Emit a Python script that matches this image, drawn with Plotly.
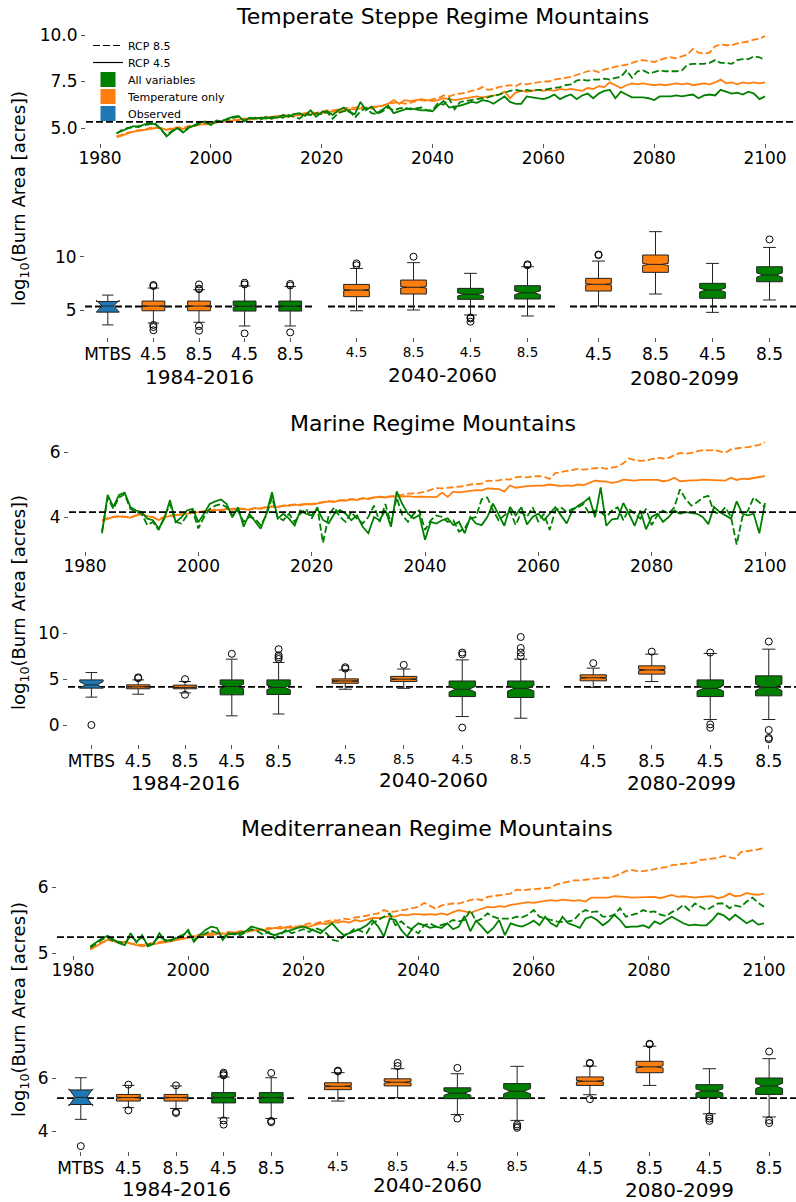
import plotly.graph_objects as go

W, H = 796, 1202
years = list(range(1983, 2101))

# ---------------- time series (log10 burn area) ----------------
# Temperate Steppe
steppe_temp45 = [
    4.50, 4.60, 4.70, 4.80, 4.85, 4.90, 4.95, 5.00, 5.00, 4.90,
    4.95, 5.00, 4.95, 5.05, 5.10, 5.20, 5.20, 5.20, 5.30, 5.35,
    5.35, 5.40, 5.45, 5.50, 5.45, 5.50, 5.55, 5.55, 5.50, 5.60,
    5.65, 5.60, 5.65, 5.70, 5.70, 5.75, 5.75, 5.80, 5.85, 5.90,
    5.85, 5.95, 6.00, 6.00, 6.05, 6.10, 6.05, 6.15, 6.20, 6.30,
    6.50, 6.30, 6.50, 6.45, 6.50, 6.55, 6.50, 6.45, 6.50, 6.60,
    6.55, 6.50, 6.55, 6.60, 6.65, 6.70, 6.65, 6.70, 6.75, 6.80,
    6.95, 6.60, 6.90, 7.00, 6.95, 7.00, 7.05, 7.00, 7.05, 7.00,
    7.10, 7.05, 7.10, 7.05, 7.00, 7.15, 7.10, 7.25, 7.20, 7.45,
    7.30, 7.15, 7.30, 7.40, 7.35, 7.40, 7.35, 7.30, 7.35, 7.30,
    7.35, 7.40, 7.35, 7.40, 7.30, 7.35, 7.40, 7.35, 7.45, 7.60,
    7.40, 7.45, 7.35, 7.45, 7.40, 7.45, 7.40, 7.45]
steppe_temp85 = [
    4.55, 4.65, 4.75, 4.80, 4.90, 4.90, 5.00, 5.05, 4.95, 4.90,
    5.00, 5.05, 5.00, 5.10, 5.15, 5.20, 5.25, 5.25, 5.30, 5.35,
    5.40, 5.45, 5.40, 5.50, 5.50, 5.55, 5.50, 5.60, 5.60, 5.65,
    5.70, 5.65, 5.75, 5.75, 5.80, 5.85, 5.80, 5.90, 5.95, 5.95,
    6.00, 6.05, 6.10, 6.10, 6.15, 6.05, 6.15, 6.15, 6.20, 6.30,
    6.35, 6.40, 6.30, 6.35, 6.45, 6.50, 6.45, 6.55, 6.60, 6.75,
    6.70, 6.80, 6.85, 6.90, 7.00, 7.05, 7.20, 7.05, 7.10, 7.20,
    7.25, 7.30, 7.25, 7.40, 7.35, 7.40, 7.45, 7.50, 7.50, 7.60,
    7.65, 7.70, 7.75, 7.85, 7.95, 8.05, 8.10, 8.00, 8.15, 8.20,
    8.30, 8.35, 8.40, 8.50, 8.60, 8.65, 8.60, 8.55, 8.65, 8.75,
    8.80, 8.75, 8.85, 8.95, 9.25, 9.05, 9.00, 9.05, 9.40, 9.50,
    9.45, 9.45, 9.55, 9.60, 9.65, 9.75, 9.80, 9.95]
steppe_all45 = [
    4.72, 4.85, 4.95, 5.10, 5.05, 5.20, 5.25, 5.20, 4.95, 4.55,
    4.80, 5.00, 4.75, 5.00, 5.15, 5.30, 5.35, 5.15, 5.40, 5.35,
    5.50, 5.60, 5.65, 5.35, 5.55, 5.50, 5.55, 5.50, 5.60, 5.55,
    5.70, 5.60, 5.75, 5.80, 5.65, 5.95, 5.60, 5.85, 5.90, 5.70,
    5.95, 6.10, 5.85, 5.75, 6.40, 5.95, 6.15, 5.80, 6.00, 6.20,
    5.80, 5.90, 6.00, 6.05, 6.00, 5.95, 5.95, 5.90, 6.20, 6.45,
    6.10, 6.15, 6.20, 6.30, 6.40, 6.35, 6.50, 6.45, 6.30, 6.50,
    6.70, 6.40, 6.30, 6.30, 6.70, 6.65, 6.60, 6.55, 6.65, 6.80,
    6.55, 6.70, 6.80, 6.55, 6.75, 6.85, 6.60, 6.85, 7.00, 7.05,
    6.60, 6.95, 6.80, 6.65, 6.65, 6.65, 6.60, 6.50, 6.70, 6.70,
    6.70, 6.75, 6.70, 6.75, 6.80, 6.60, 6.75, 6.80, 6.75, 7.05,
    6.95, 6.85, 6.90, 6.80, 6.95, 6.85, 6.55, 6.70]
steppe_all85 = [
    4.70, 4.90, 5.00, 5.05, 5.10, 5.15, 5.20, 5.25, 4.90, 4.60,
    4.85, 5.00, 4.80, 5.05, 5.10, 5.25, 5.30, 5.20, 5.35, 5.40,
    5.45, 5.55, 5.60, 5.40, 5.50, 5.55, 5.45, 5.60, 5.50, 5.65,
    5.55, 5.70, 5.60, 5.50, 5.75, 5.70, 5.80, 5.75, 5.85, 5.50,
    5.80, 5.90, 5.95, 5.55, 5.90, 6.10, 5.80, 5.75, 5.90, 6.10,
    5.95, 6.05, 6.10, 6.00, 6.05, 6.10, 5.95, 5.95, 6.35, 6.25,
    6.60, 6.00, 6.40, 6.45, 6.50, 6.55, 6.60, 6.65, 6.75, 6.80,
    6.90, 7.00, 7.05, 7.00, 7.05, 7.00, 7.05, 7.05, 7.10, 7.15,
    7.20, 7.30, 7.35, 7.55, 7.60, 7.55, 7.60, 7.60, 7.65, 7.60,
    7.70, 7.75, 8.10, 7.70, 8.05, 8.10, 7.95, 8.00, 8.10, 8.05,
    8.05, 8.05, 8.10, 8.40, 8.45, 8.45, 8.45, 8.50, 8.65, 8.50,
    8.50, 8.45, 8.65, 8.70, 8.70, 8.85, 8.80, 8.65]

# Marine
marine_temp45 = [
    3.88, 3.95, 4.00, 4.02, 4.00, 3.98, 4.05, 4.08, 4.02, 4.00,
    3.90, 4.00, 4.03, 4.05, 4.08, 4.10, 4.12, 4.15, 4.18, 4.20,
    4.22, 4.20, 4.25, 4.22, 4.26, 4.24, 4.22, 4.27, 4.25, 4.30,
    4.32, 4.30, 4.36, 4.34, 4.38, 4.36, 4.40, 4.38, 4.42, 4.45,
    4.48, 4.46, 4.52, 4.50, 4.55, 4.52, 4.57, 4.55, 4.60, 4.62,
    4.60, 4.63, 4.62, 4.63, 4.64, 4.62, 4.63, 4.62, 4.60, 4.61,
    4.75, 4.62, 4.78, 4.76, 4.78, 4.80, 4.83, 4.82, 4.88, 4.87,
    4.86, 4.78, 4.97, 4.90, 4.93, 4.95, 4.96, 4.96, 4.97, 5.00,
    4.98, 4.95, 4.97, 4.96, 5.00, 4.98, 5.05, 5.12, 5.10, 5.09,
    5.05, 5.08, 5.15, 5.14, 5.12, 5.14, 5.13, 5.14, 5.14, 5.10,
    5.13, 5.21, 5.10, 5.12, 5.13, 5.13, 5.15, 5.14, 5.13, 5.11,
    5.12, 5.21, 5.14, 5.18, 5.17, 5.20, 5.22, 5.26]
marine_temp85 = [
    3.90, 3.97, 4.00, 4.03, 4.01, 3.99, 4.04, 4.07, 4.03, 4.00,
    3.92, 4.01, 4.04, 4.06, 4.09, 4.11, 4.13, 4.16, 4.17, 4.21,
    4.23, 4.22, 4.24, 4.25, 4.27, 4.25, 4.24, 4.28, 4.27, 4.31,
    4.33, 4.32, 4.35, 4.36, 4.39, 4.38, 4.41, 4.40, 4.43, 4.46,
    4.49, 4.48, 4.51, 4.53, 4.55, 4.54, 4.58, 4.57, 4.61, 4.63,
    4.62, 4.65, 4.66, 4.68, 4.72, 4.73, 4.74, 4.78, 4.83, 4.89,
    4.88, 4.90, 4.92, 4.94, 4.95, 5.00, 5.02, 5.03, 5.12, 5.11,
    5.13, 5.16, 5.15, 5.22, 5.24, 5.22, 5.25, 5.26, 5.24, 5.17,
    5.35, 5.38, 5.42, 5.45, 5.48, 5.46, 5.47, 5.50, 5.52, 5.48,
    5.52, 5.55, 5.65, 5.80, 5.75, 5.73, 5.74, 5.78, 5.82, 5.80,
    5.82, 5.90, 5.97, 5.95, 5.97, 6.02, 6.06, 6.05, 6.06, 6.02,
    5.98, 6.08, 6.12, 6.14, 6.15, 6.18, 6.22, 6.30]
marine_all45 = [
    3.50, 4.68, 4.31, 4.68, 4.75, 4.31, 4.20, 4.15, 3.95, 3.90,
    3.64, 3.95, 4.52, 3.84, 3.99, 4.20, 4.25, 3.84, 4.10, 4.40,
    4.48, 4.54, 4.40, 3.99, 4.30, 3.70, 4.10, 3.85, 3.64, 4.10,
    4.76, 3.95, 4.10, 3.95, 3.74, 4.20, 4.10, 4.05, 4.25, 3.91,
    3.81, 4.10, 4.21, 4.10, 3.90, 4.05, 3.70, 3.50, 4.00, 3.90,
    4.21, 3.70, 4.79, 4.40, 4.10, 3.96, 4.06, 3.30, 3.85, 3.80,
    3.90, 3.96, 3.75, 3.85, 3.50, 4.00, 3.80, 3.75, 4.00, 4.41,
    4.05, 3.73, 4.31, 4.05, 4.30, 3.77, 4.00, 4.10, 3.90, 4.10,
    4.30, 4.05, 3.80, 4.20, 4.35, 4.45, 4.60, 3.99, 4.91, 3.73,
    3.93, 3.95, 4.43, 4.10, 3.73, 4.20, 3.62, 4.00, 4.10, 3.85,
    4.00, 4.20, 4.10, 4.15, 4.12, 4.10, 4.00, 3.78, 4.31, 4.15,
    4.05, 3.95, 4.48, 4.10, 4.05, 4.10, 3.50, 4.43]
marine_all85 = [
    3.55, 4.60, 4.25, 4.60, 4.70, 4.25, 4.15, 4.10, 3.75, 3.85,
    3.60, 4.00, 4.40, 3.85, 3.80, 4.05, 4.20, 3.65, 4.00, 4.25,
    4.35, 4.40, 4.30, 4.05, 4.20, 3.85, 4.00, 3.95, 3.75, 4.05,
    4.60, 4.00, 3.90, 4.10, 3.85, 4.10, 4.25, 3.95, 4.30, 3.20,
    4.05, 4.30, 4.00, 3.85, 4.15, 3.95, 3.80, 4.00, 4.35, 3.85,
    4.40, 3.80, 4.60, 4.05, 3.85, 4.10, 4.20, 3.60, 3.90, 4.05,
    4.00, 3.85, 3.90, 3.55, 3.65, 3.95, 4.00, 4.55, 4.60, 4.20,
    3.90, 4.05, 4.20, 3.75, 4.15, 4.00, 4.30, 3.85, 4.10, 3.60,
    4.20, 4.30, 4.15, 4.25, 4.30, 4.40, 4.10, 4.20, 4.15, 4.00,
    4.20, 4.30, 3.90, 4.25, 4.10, 3.95, 4.25, 3.75, 4.05, 4.20,
    4.10, 4.30, 4.85, 4.55, 4.35, 4.45, 4.60, 4.65, 4.15, 4.10,
    4.30, 4.00, 3.15, 4.00, 4.20, 4.60, 4.45, 4.30]

# Mediterranean
med_temp45 = [
    5.05, 5.10, 5.15, 5.20, 5.18, 5.15, 5.17, 5.14, 5.12, 5.10,
    5.12, 5.14, 5.15, 5.16, 5.18, 5.20, 5.22, 5.24, 5.25, 5.26,
    5.28, 5.27, 5.29, 5.30, 5.28, 5.31, 5.30, 5.32, 5.33, 5.35,
    5.34, 5.36, 5.38, 5.37, 5.39, 5.38, 5.40, 5.41, 5.40, 5.43,
    5.45, 5.44, 5.47, 5.46, 5.48, 5.46, 5.50, 5.48, 5.51, 5.53,
    5.53, 5.55, 5.56, 5.55, 5.58, 5.57, 5.59, 5.59, 5.58, 5.59,
    5.58, 5.60, 5.58, 5.62, 5.65, 5.63, 5.61, 5.64, 5.67, 5.70,
    5.69, 5.71, 5.70, 5.73, 5.74, 5.76, 5.77, 5.76, 5.78, 5.79,
    5.80, 5.79, 5.81, 5.80, 5.79, 5.80, 5.78, 5.84, 5.84, 5.83,
    5.84, 5.86, 5.86, 5.85, 5.84, 5.84, 5.84, 5.84, 5.85, 5.83,
    5.86, 5.88, 5.85, 5.86, 5.85, 5.84, 5.85, 5.85, 5.86, 5.83,
    5.85, 5.90, 5.86, 5.87, 5.91, 5.89, 5.88, 5.90]
med_temp85 = [
    5.07, 5.12, 5.16, 5.19, 5.20, 5.17, 5.16, 5.15, 5.13, 5.12,
    5.14, 5.15, 5.17, 5.18, 5.20, 5.22, 5.24, 5.25, 5.26, 5.28,
    5.27, 5.30, 5.31, 5.29, 5.32, 5.31, 5.33, 5.34, 5.35, 5.34,
    5.36, 5.38, 5.37, 5.40, 5.39, 5.41, 5.40, 5.43, 5.45, 5.44,
    5.47, 5.48, 5.50, 5.49, 5.52, 5.51, 5.54, 5.55, 5.57, 5.58,
    5.60, 5.65, 5.62, 5.63, 5.64, 5.66, 5.68, 5.70, 5.76, 5.72,
    5.67, 5.72, 5.74, 5.75, 5.75, 5.78, 5.80, 5.82, 5.80, 5.85,
    5.86, 5.87, 5.88, 5.90, 5.96, 5.95, 5.96, 5.97, 5.98, 5.98,
    5.99, 6.04, 6.06, 6.09, 6.10, 6.10, 6.11, 6.13, 6.13, 6.14,
    6.14, 6.16, 6.20, 6.24, 6.26, 6.24, 6.24, 6.25, 6.27, 6.29,
    6.30, 6.33, 6.34, 6.35, 6.36, 6.37, 6.41, 6.42, 6.43, 6.44,
    6.47, 6.45, 6.43, 6.53, 6.54, 6.55, 6.57, 6.59]
med_all45 = [
    5.10, 5.16, 5.22, 5.26, 5.20, 5.15, 5.12, 5.30, 5.16, 5.27,
    5.10, 5.14, 5.30, 5.18, 5.20, 5.22, 5.25, 5.35, 5.17, 5.27,
    5.35, 5.40, 5.38, 5.20, 5.30, 5.28, 5.30, 5.33, 5.40, 5.37,
    5.35, 5.30, 5.27, 5.30, 5.32, 5.35, 5.38, 5.40, 5.37, 5.34,
    5.30, 5.38, 5.45, 5.35, 5.27, 5.30, 5.33, 5.37, 5.42, 5.50,
    5.40, 5.25, 5.52, 5.50, 5.35, 5.25, 5.38, 5.45, 5.42, 5.38,
    5.40, 5.38, 5.45, 5.36, 5.40, 5.56, 5.33, 5.49, 5.40, 5.30,
    5.38, 5.50, 5.27, 5.45, 5.42, 5.40, 5.44, 5.49, 5.42, 5.55,
    5.45, 5.40, 5.55, 5.45, 5.42, 5.38, 5.52, 5.55, 5.50, 5.42,
    5.48, 5.58, 5.50, 5.39, 5.40, 5.40, 5.42, 5.38, 5.48, 5.44,
    5.50, 5.55, 5.50, 5.45, 5.42, 5.43, 5.42, 5.42, 5.50, 5.60,
    5.57, 5.50, 5.58, 5.52, 5.45, 5.50, 5.43, 5.45]
med_all85 = [
    5.08, 5.14, 5.20, 5.24, 5.18, 5.17, 5.14, 5.26, 5.18, 5.24,
    5.12, 5.16, 5.25, 5.20, 5.18, 5.24, 5.27, 5.32, 5.20, 5.25,
    5.30, 5.34, 5.30, 5.24, 5.28, 5.30, 5.27, 5.31, 5.36, 5.33,
    5.28, 5.32, 5.22, 5.28, 5.35, 5.30, 5.33, 5.36, 5.32, 5.38,
    5.35, 5.30, 5.20, 5.18, 5.25, 5.30, 5.38, 5.33, 5.30, 5.45,
    5.50, 5.55, 5.60, 5.42, 5.48, 5.40, 5.35, 5.30, 5.42, 5.45,
    5.40, 5.42, 5.45, 5.50, 5.48, 5.50, 5.65, 5.48, 5.52, 5.60,
    5.55, 5.52, 5.52, 5.52, 5.55, 5.54, 5.58, 5.65, 5.55, 5.52,
    5.50, 5.48, 5.47, 5.48, 5.50, 5.60, 5.65, 5.62, 5.63, 5.55,
    5.55, 5.58, 5.68, 5.55, 5.58, 5.60, 5.65, 5.62, 5.63, 5.58,
    5.56, 5.62, 5.66, 5.73, 5.65, 5.75, 5.70, 5.65, 5.70, 5.75,
    5.75, 5.68, 5.72, 5.70, 5.78, 5.84, 5.76, 5.70]

# observed (MTBS) reference levels
steppe_ref = 5.33
marine_ref = 4.15
med_ref = 5.24

# ---------------- box statistics ----------------
group_names = ["1984-2016", "2040-2060", "2080-2099"]
group_ticklabels = [["MTBS", "4.5", "8.5", "4.5", "8.5"],
                    ["4.5", "8.5", "4.5", "8.5"],
                    ["4.5", "8.5", "4.5", "8.5"]]
box_kinds = ["obs", "temp", "temp", "all", "all",
             "temp", "temp", "all", "all",
             "temp", "temp", "all", "all"]

steppe_q1 = [4.80, 4.93, 4.93, 4.90, 4.90, 6.25, 6.50, 6.00, 6.03, 6.78, 8.53, 6.10, 7.65]
steppe_med = [5.37, 5.37, 5.37, 5.35, 5.35, 6.87, 7.13, 6.47, 6.62, 7.41, 9.28, 6.87, 8.28]
steppe_q3 = [5.80, 5.84, 5.84, 5.84, 5.84, 7.40, 7.81, 7.03, 7.28, 7.97, 10.16, 7.50, 9.06]
steppe_lo = [3.60, 3.78, 3.85, 3.50, 3.50, 4.93, 5.00, 4.53, 4.44, 5.37, 6.50, 4.78, 5.94]
steppe_hi = [6.40, 7.06, 6.90, 7.25, 7.20, 8.90, 9.44, 8.44, 9.06, 9.59, 12.35, 9.37, 10.87]
steppe_notch = [0.55, 0.05, 0.05, 0.08, 0.08, 0.06, 0.07, 0.15, 0.18, 0.06, 0.10, 0.18, 0.20]
steppe_out = [[], [7.35, 7.25, 3.6, 3.4, 3.1], [7.4, 7.0, 6.95, 3.5, 3.06],
              [7.56, 7.4, 2.8], [7.45, 7.3, 2.9],
              [9.37, 9.2], [10.0], [4.3, 4.2, 3.9], [9.28, 9.2],
              [10.15, 10.2], [], [], [11.62]]

marine_q1 = [4.02, 3.95, 3.95, 3.29, 3.33, 4.55, 4.75, 3.10, 3.00, 4.82, 5.55, 3.10, 3.18]
marine_med = [4.38, 4.16, 4.10, 4.20, 4.10, 4.80, 5.00, 3.90, 4.00, 5.15, 6.00, 4.00, 4.10]
marine_q3 = [4.92, 4.38, 4.35, 4.92, 4.92, 5.03, 5.30, 4.80, 4.80, 5.47, 6.45, 4.92, 5.36]
marine_lo = [3.04, 3.36, 3.50, 1.00, 1.20, 3.90, 4.00, 0.92, 0.74, 4.10, 4.74, 0.60, 0.60]
marine_hi = [5.72, 4.92, 4.74, 7.18, 6.82, 6.00, 6.10, 7.10, 7.18, 6.20, 7.73, 7.80, 8.27]
marine_notch = [0.35, 0.04, 0.04, 0.25, 0.25, 0.05, 0.06, 0.30, 0.30, 0.06, 0.08, 0.30, 0.35]
marine_out = [[0.0], [5.2, 5.1], [5.0, 3.3], [7.76], [8.27, 7.6, 7.4, 7.2],
              [6.3, 6.15], [6.56], [7.9, 7.7, -0.28], [9.6, 8.4, 7.9, 7.5],
              [6.74], [8.0], [7.9, 0.07, -0.3], [9.1, -0.55, -1.4, -1.55]]

med_q1 = [5.00, 5.13, 5.13, 5.06, 5.06, 5.56, 5.70, 5.22, 5.22, 5.72, 6.20, 5.26, 5.38]
med_med = [5.27, 5.26, 5.26, 5.26, 5.26, 5.69, 5.84, 5.43, 5.50, 5.88, 6.42, 5.51, 5.70]
med_q3 = [5.55, 5.38, 5.38, 5.45, 5.45, 5.82, 5.97, 5.63, 5.79, 6.04, 6.63, 5.75, 6.00]
med_lo = [4.44, 4.88, 4.85, 4.49, 4.47, 5.13, 5.26, 4.62, 4.40, 5.37, 5.72, 4.65, 4.53]
med_hi = [6.01, 5.72, 5.70, 6.04, 6.01, 6.20, 6.35, 6.16, 6.44, 6.45, 7.20, 6.35, 6.73]
med_notch = [0.32, 0.02, 0.02, 0.03, 0.03, 0.02, 0.03, 0.08, 0.10, 0.03, 0.04, 0.08, 0.10]
med_out = [[3.43], [5.75, 4.78], [5.72, 4.72, 4.68], [6.2, 6.15, 6.1, 4.4, 4.24],
           [6.19, 4.38, 4.33], [6.25, 6.28], [6.57, 6.45], [6.38, 4.47],
           [4.25, 4.18, 4.12], [6.57, 6.55, 5.2], [7.29, 7.27], [4.55, 4.47, 4.38],
           [7.0, 4.4, 4.3]]

for s in [steppe_temp45, steppe_temp85, steppe_all45, steppe_all85,
          marine_temp45, marine_temp85, marine_all45, marine_all85,
          med_temp45, med_temp85, med_all45, med_all85]:
    assert len(s) == len(years), len(s)

# ---------------- styling / geometry (page pixels) ----------------
COL = {"temp": "#ff7f0e", "all": "green", "obs": "#1f77b4"}
LW = 1.8
DASH = "7px,3px"
FONT = "DejaVu Sans"
RIGHT = W


def fx(p):
    return min(max(p / W, 0.0), 1.0)


def fy(p):
    return min(max(1 - p / H, 0.0), 1.0)


def lin_range(pa, va, pb, vb, p_lo, p_hi):
    s = (vb - va) / (pb - pa)
    return [va + (p_lo - pa) * s, va + (p_hi - pa) * s]


panels = [
    dict(title="Temperate Steppe Regime Mountains", title_xy=(442, 17),
         series=(steppe_temp85, steppe_temp45, steppe_all85, steppe_all45), ref=steppe_ref,
         stats=(steppe_q1, steppe_med, steppe_q3, steppe_lo, steppe_hi, steppe_notch, steppe_out),
         line_x=(86, 100, 765), line_y=(31, 143), line_yanch=((35, 10), (128, 5)),
         line_ticks=([5, 7.5, 10], ["5.0", "7.5", "10.0"]),
         box_y=(226, 337), box_yanch=((256.7, 10), (310, 5)), box_ticks=[5, 10],
         groups=[(85, 313), (328, 556), (570, 798)],
         glabel_y=[377, 375, 378], ylab=(20, 199)),
    dict(title="Marine Regime Mountains", title_xy=(433, 423),
         series=(marine_temp85, marine_temp45, marine_all85, marine_all45), ref=marine_ref,
         stats=(marine_q1, marine_med, marine_q3, marine_lo, marine_hi, marine_notch, marine_out),
         line_x=(69, 85, 765), line_y=(437, 551), line_yanch=((452, 6), (517, 4)),
         line_ticks=([4, 6], ["4", "6"]),
         box_y=(632, 744), box_yanch=((633.3, 10), (725, 0)), box_ticks=[0, 5, 10],
         groups=[(68, 302), (316, 550), (564, 798)],
         glabel_y=[783, 780, 783], ylab=(20, 603)),
    dict(title="Mediterranean Regime Mountains", title_xy=(427, 828),
         series=(med_temp85, med_temp45, med_all85, med_all45), ref=med_ref,
         stats=(med_q1, med_med, med_q3, med_lo, med_hi, med_notch, med_out),
         line_x=(57, 73, 764), line_y=(843, 955), line_yanch=((887, 6), (953, 5)),
         line_ticks=([5, 6], ["5", "6"]),
         box_y=(1038, 1151), box_yanch=((1078, 6), (1131, 4)), box_ticks=[4, 6],
         groups=[(57, 295), (308, 547), (560, 799)],
         glabel_y=[1189, 1185, 1190], ylab=(20, 1010)),
]

fig = go.Figure()
layout = dict(width=W, height=H, margin=dict(l=0, r=0, t=0, b=0, pad=0, autoexpand=False),
              autosize=False, paper_bgcolor="white", plot_bgcolor="white",
              font=dict(family=FONT, color="black"), showlegend=True,
              boxmode="overlay")
shapes = []
annotations = []


def an(i):
    return "" if i == 1 else str(i)


axis_common = dict(showgrid=False, zeroline=False, showline=False, ticks="outside",
                   ticklen=4, tickwidth=1, tickcolor="#555", automargin=False)

# legend proxies: one single-entry legend per row so the row spacing matches the original
legend_items = [("RCP 8.5", "line", "black", DASH), ("RCP 4.5", "line", "black", "solid"),
                ("All variables", "patch", COL["all"], None),
                ("Temperature only", "patch", COL["temp"], None),
                ("Observed", "patch", COL["obs"], None)]
legend_rows_px = [46, 63, 80, 97, 114]
for i, (name, kind, color, dash) in enumerate(legend_items):
    lg = "legend" if i == 0 else "legend%d" % (i + 1)
    if kind == "line":
        fig.add_trace(go.Scatter(x=[None], y=[None], mode="lines", name=name,
                                 line=dict(color=color, width=1.2, dash=dash),
                                 xaxis="x", yaxis="y", showlegend=True, legend=lg))
    else:
        fig.add_trace(go.Scatter(x=[None], y=[None], mode="markers", name=name,
                                 marker=dict(symbol="square", size=15, color=color,
                                             line=dict(width=0)),
                                 xaxis="x", yaxis="y", showlegend=True, legend=lg))
    layout[lg] = dict(x=fx(88), y=fy(legend_rows_px[i] - 15), xanchor="left", yanchor="top",
                      font=dict(size=11), bgcolor="rgba(0,0,0,0)", itemwidth=30,
                      tracegroupgap=0, borderwidth=0)

for pi, P in enumerate(panels):
    base = pi * 4 + 1
    ln = an(base)
    # ---- line chart ----
    styles = [(COL["temp"], DASH), (COL["temp"], "solid"), (COL["all"], DASH), (COL["all"], "solid")]
    for vals, (c, d) in zip(P["series"], styles):
        fig.add_trace(go.Scatter(x=years, y=vals, mode="lines",
                                 line=dict(color=c, width=LW, dash=d),
                                 xaxis="x" + ln, yaxis="y" + ln, showlegend=False,
                                 hoverinfo="skip"))
    lx0, p1980, p2100 = P["line_x"]
    (pa, va), (pb, vb) = P["line_yanch"]
    layout["xaxis" + ln] = dict(axis_common, domain=[fx(lx0), fx(RIGHT)],
                                range=lin_range(p1980, 1980, p2100, 2100, lx0, RIGHT),
                                anchor="y" + ln, ticklabelstandoff=-4,
                                tickvals=[1980, 2000, 2020, 2040, 2060, 2080, 2100],
                                tickfont=dict(size=17))
    layout["yaxis" + ln] = dict(axis_common, domain=[fy(P["line_y"][1]), fy(P["line_y"][0])],
                                range=lin_range(pa, va, pb, vb, P["line_y"][1], P["line_y"][0]),
                                anchor="x" + ln,
                                tickvals=P["line_ticks"][0], ticktext=P["line_ticks"][1],
                                tickfont=dict(size=17))
    shapes.append(dict(type="line", xref="x" + ln + " domain", x0=0, x1=1,
                       yref="y" + ln, y0=P["ref"], y1=P["ref"], layer="above",
                       line=dict(color="black", width=1.8, dash=DASH)))
    annotations.append(dict(text=P["title"], x=fx(P["title_xy"][0]), y=fy(P["title_xy"][1]),
                            xref="paper", yref="paper", xanchor="center", yanchor="middle",
                            showarrow=False, font=dict(size=22)))
    annotations.append(dict(text="log<sub>10</sub>(Burn Area [acres])",
                            x=fx(P["ylab"][0]), y=fy(P["ylab"][1]), xref="paper", yref="paper",
                            xanchor="center", yanchor="middle", textangle=-90,
                            showarrow=False, font=dict(size=18)))

    # ---- box charts ----
    q1, med, q3, lo, hi, notch, outl = P["stats"]
    ybox = an(base + 1)
    (pa, va), (pb, vb) = P["box_yanch"]
    layout["yaxis" + ybox] = dict(axis_common, domain=[fy(P["box_y"][1]), fy(P["box_y"][0])],
                                  range=lin_range(pa, va, pb, vb, P["box_y"][1], P["box_y"][0]),
                                  anchor="x" + ybox,
                                  tickvals=P["box_ticks"], tickfont=dict(size=17))
    k = 0
    for g, (gl, gr) in enumerate(P["groups"]):
        xn = an(base + 1 + g)
        labels = group_ticklabels[g]
        n = len(labels)
        positions = list(range(1, n + 1))
        width = 0.5 if n == 5 else 0.45
        gr_vis = min(gr, RIGHT)
        layout["xaxis" + xn] = dict(axis_common, domain=[fx(gl), fx(gr_vis)],
                                    range=lin_range(gl, 0.5, gr, n + 0.5, gl, gr_vis),
                                    anchor="y" + ybox, tickvals=positions, ticktext=labels,
                                    ticklabelstandoff=-1 if g == 1 else -2,
                                    tickfont=dict(size=13.5 if g == 1 else 17))
        shapes.append(dict(type="line", xref="x" + xn + " domain", x0=0, x1=1,
                           yref="y" + ybox, y0=P["ref"], y1=P["ref"], layer="below",
                           line=dict(color="black", width=1.8, dash=DASH)))
        for pos in positions:
            kind = box_kinds[k]
            fig.add_trace(go.Box(x=[pos], q1=[q1[k]], median=[med[k]], q3=[q3[k]],
                                 lowerfence=[lo[k]], upperfence=[hi[k]], notchspan=[notch[k]],
                                 notched=True, notchwidth=0.25, width=width, whiskerwidth=0.5,
                                 fillcolor=COL[kind], line=dict(color="#222", width=1),
                                 boxpoints=False, xaxis="x" + xn, yaxis="y" + ybox,
                                 showlegend=False, hoverinfo="skip"))
            if outl[k]:
                fig.add_trace(go.Scatter(x=[pos] * len(outl[k]), y=outl[k], mode="markers",
                                         marker=dict(symbol="circle-open", size=7, color="black",
                                                     line=dict(width=1)),
                                         xaxis="x" + xn, yaxis="y" + ybox, showlegend=False,
                                         hoverinfo="skip"))
            k += 1
        annotations.append(dict(text=group_names[g], x=fx((gl + gr) / 2), y=fy(P["glabel_y"][g]),
                                xref="paper", yref="paper", xanchor="center", yanchor="middle",
                                showarrow=False, font=dict(size=20)))

layout["shapes"] = shapes
layout["annotations"] = annotations
fig.update_layout(**layout)
fig.write_html("out.html")
